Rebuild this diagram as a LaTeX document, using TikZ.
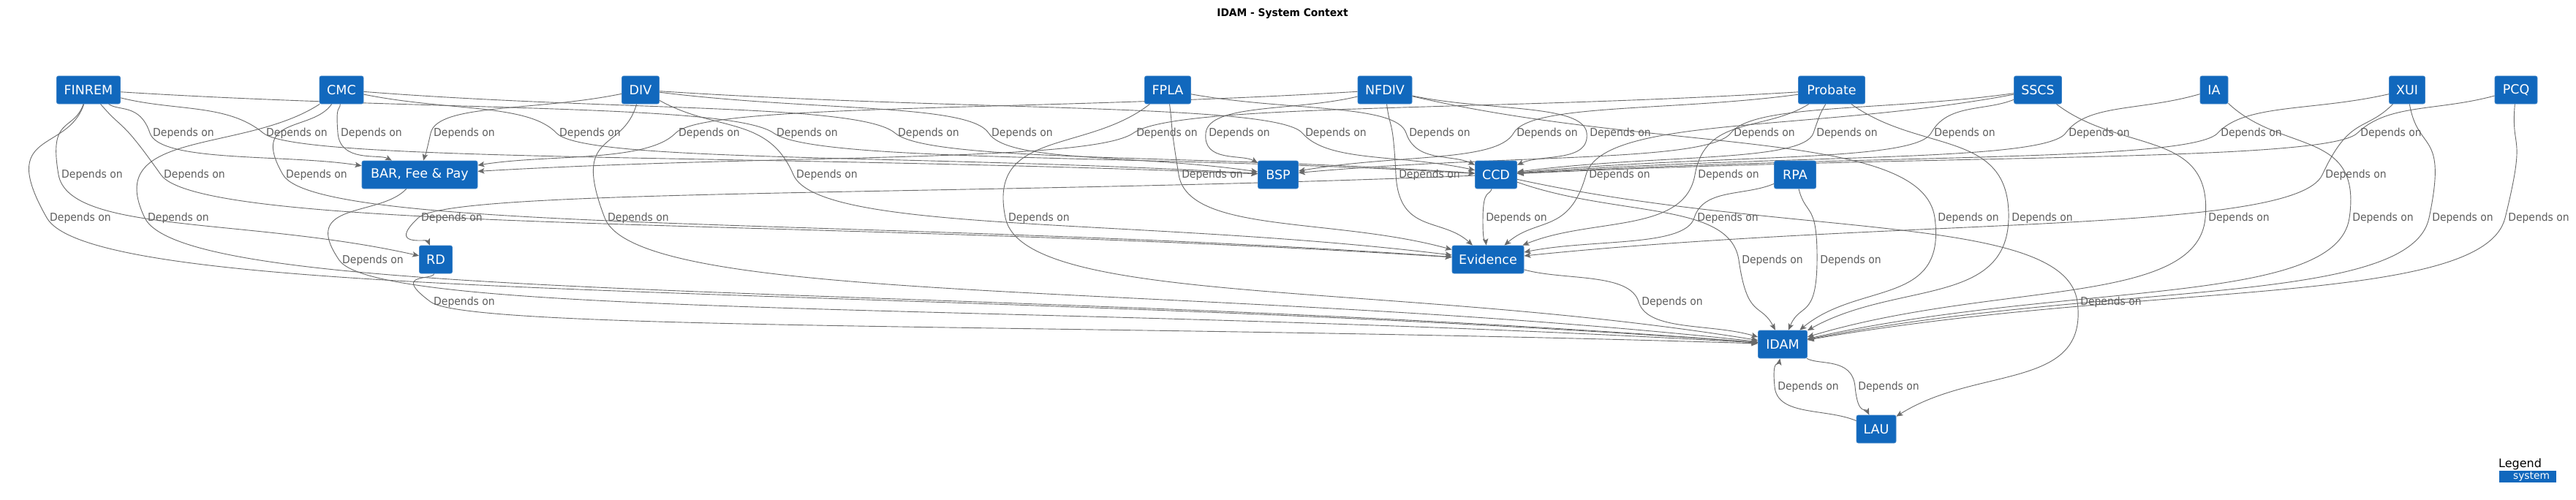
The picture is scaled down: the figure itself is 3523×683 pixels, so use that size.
\documentclass[tikz,border=0pt]{standalone}
\usepackage{fontspec}
\setmainfont{DejaVu Sans}
\newfontfamily\lblfont{DejaVu Sans}[FakeStretch=0.93]
\newfontfamily\ttlfont{DejaVu Sans Bold}[FakeStretch=0.95]
\usetikzlibrary{arrows.meta,calc}
\definecolor{c4blue}{HTML}{1168BD}
\definecolor{c4edge}{HTML}{3F83C6}
\definecolor{c4line}{HTML}{6A6A6A}
\definecolor{c4label}{HTML}{5E5E5E}
\pgfdeclarelayer{background}
\pgfdeclarelayer{edges}
\pgfsetlayers{background,edges,main}
\tikzset{
  sys/.style={rectangle, rounded corners=2.5pt, fill=c4blue, draw=c4edge, line width=0.8pt,
    text=white, font=\fontsize{17.5}{21}\selectfont, minimum height=38pt, inner sep=0pt},
  lbl/.style={inner sep=0pt, text=c4label, font=\lblfont\fontsize{15}{18}\selectfont},
  depline/.style={draw=c4line, line width=0.9pt, -{Stealth[length=9pt,width=7.5pt,inset=2pt]}},
  legbox/.style={rectangle, fill=c4blue, text=white, inner sep=0pt, minimum width=78pt,
    minimum height=16pt, font=\fontsize{13.8}{16}\selectfont},
}
\newcommand{\depedge}[3]{%
  \draw[depline] let \p1=(#1.center), \p2=([xshift=-4pt]#2.west), \p3=(#3.center) in
    (#1) .. controls ({0.5*\x1+0.5*\x2},{0.5*\y1+0.5*\y2})
               and ({\x2-0.03*(\x3-\x1)},{\y2-0.35*(\y3-\y1)}) .. (\p2)
         .. controls ({\x2+0.03*(\x3-\x1)},{\y2+0.35*(\y3-\y1)})
               and ({0.5*\x3+0.5*\x2},{0.5*\y3+0.5*\y2}) .. (#3);}
\begin{document}
\begin{tikzpicture}[x=1pt,y=-1pt]
\begin{pgfonlayer}{background}
  \fill[white] (0,0) rectangle (3523,683);
\end{pgfonlayer}
\useasboundingbox (0,0) rectangle (3523,683);

% title
\node[font=\ttlfont\fontsize{14.5}{18}\selectfont, text=black, inner sep=0pt] (title) at (1754,18.5) {IDAM - System Context};

% systems
\node[sys, minimum width=87pt] (finrem) at (121,123) {FINREM};
\node[sys, minimum width=60pt] (cmc) at (467,123) {CMC};
\node[sys, minimum width=51pt] (div) at (876,123) {DIV};
\node[sys, minimum width=63pt] (fpla) at (1597,123) {FPLA};
\node[sys, minimum width=74pt] (nfdiv) at (1894,123) {NFDIV};
\node[sys, minimum width=91pt] (probate) at (2505,123) {Probate};
\node[sys, minimum width=65pt] (sscs) at (2787,123) {SSCS};
\node[sys, minimum width=38pt] (ia) at (3028,123) {IA};
\node[sys, minimum width=49pt] (xui) at (3292,123) {XUI};
\node[sys, minimum width=58pt] (pcq) at (3441,123) {PCQ};
\node[sys, minimum width=158pt] (bar) at (574,239) {BAR, Fee \& Pay};
\node[sys, minimum width=55pt] (bsp) at (1748,239) {BSP};
\node[sys, minimum width=57pt] (ccd) at (2046,239) {CCD};
\node[sys, minimum width=57pt] (rpa) at (2455,239) {RPA};
\node[sys, minimum width=45pt] (rd) at (596,355) {RD};
\node[sys, minimum width=98pt] (evidence) at (2035,355) {Evidence};
\node[sys, minimum width=67pt] (idam) at (2438,471) {IDAM};
\node[sys, minimum width=54pt] (lau) at (2566,587) {LAU};

% labels row A
\node[lbl] (La1) at (251,182) {Depends on};
\node[lbl] (La2) at (406,182) {Depends on};
\node[lbl] (La3) at (508,182) {Depends on};
\node[lbl] (La4) at (635,182) {Depends on};
\node[lbl] (La5) at (807,182) {Depends on};
\node[lbl] (La6) at (970,182) {Depends on};
\node[lbl] (La7) at (1104,182) {Depends on};
\node[lbl] (La8) at (1270,182) {Depends on};
\node[lbl] (La9) at (1398,182) {Depends on};
\node[lbl] (La10) at (1596,182) {Depends on};
\node[lbl] (La11) at (1695,182) {Depends on};
\node[lbl] (La12) at (1827,182) {Depends on};
\node[lbl] (La13) at (1969,182) {Depends on};
\node[lbl] (La14) at (2116,182) {Depends on};
\node[lbl] (La15) at (2216,182) {Depends on};
\node[lbl] (La16) at (2413,182) {Depends on};
\node[lbl] (La17) at (2526,182) {Depends on};
\node[lbl] (La18) at (2687,182) {Depends on};
\node[lbl] (La19) at (2871,182) {Depends on};
\node[lbl] (La20) at (3079,182) {Depends on};
\node[lbl] (La21) at (3270,182) {Depends on};
% labels row B
\node[lbl] (Lb1) at (126,239) {Depends on};
\node[lbl] (Lb2) at (266,239) {Depends on};
\node[lbl] (Lb3) at (433,239) {Depends on};
\node[lbl] (Lb4) at (1131,239) {Depends on};
\node[lbl] (Lb5) at (1658,239) {Depends on};
\node[lbl] (Lb6) at (1955,239) {Depends on};
\node[lbl] (Lb7) at (2215,239) {Depends on};
\node[lbl] (Lb8) at (2364,239) {Depends on};
\node[lbl] (Lb9) at (3222,239) {Depends on};
% labels row C
\node[lbl] (Lc1) at (110,298) {Depends on};
\node[lbl] (Lc2) at (244,298) {Depends on};
\node[lbl] (Lc3) at (618,298) {Depends on};
\node[lbl] (Lc4) at (873,298) {Depends on};
\node[lbl] (Lc5) at (1421,298) {Depends on};
\node[lbl] (Lc6) at (2074,298) {Depends on};
\node[lbl] (Lc7) at (2363,298) {Depends on};
\node[lbl] (Lc8) at (2692,298) {Depends on};
\node[lbl] (Lc9) at (2793,298) {Depends on};
\node[lbl] (Lc10) at (3062,298) {Depends on};
\node[lbl] (Lc11) at (3259,298) {Depends on};
\node[lbl] (Lc12) at (3368,298) {Depends on};
\node[lbl] (Lc13) at (3472,298) {Depends on};
% labels row D
\node[lbl] (Ld1) at (510,356) {Depends on};
\node[lbl] (Ld2) at (2424,356) {Depends on};
\node[lbl] (Ld3) at (2531,356) {Depends on};
% labels row E
\node[lbl] (Le1) at (635,413) {Depends on};
\node[lbl] (Le2) at (2287,413) {Depends on};
\node[lbl] (Le3) at (2887,413) {Depends on};
% labels row F
\node[lbl] (Lf1) at (2473,529) {Depends on};
\node[lbl] (Lf2) at (2583,529) {Depends on};

% legend
\node[anchor=west, inner sep=0pt, text=black, font=\fontsize{16}{19}\selectfont] (legend) at (3417,635) {Legend};
\node[legbox] (legsys) at (3457,652) {\hspace*{10pt}system};

\begin{pgfonlayer}{edges}
\depedge{finrem}{La1}{bar}
\depedge{finrem}{La2}{bsp}
\depedge{cmc}{La3}{bar}
\depedge{div}{La4}{bar}
\depedge{cmc}{La5}{bsp}
\depedge{nfdiv}{La6}{bar}
\depedge{finrem}{La7}{ccd}
\depedge{cmc}{La8}{ccd}
\depedge{div}{La9}{bsp}
\depedge{probate}{La10}{bar}
\depedge{nfdiv}{La11}{bsp}
\depedge{div}{La12}{ccd}
\depedge{fpla}{La13}{ccd}
\depedge{probate}{La14}{bsp}
\depedge{nfdiv}{La15}{ccd}
\depedge{sscs}{La16}{bsp}
\depedge{probate}{La17}{ccd}
\depedge{sscs}{La18}{ccd}
\depedge{ia}{La19}{ccd}
\depedge{xui}{La20}{ccd}
\depedge{pcq}{La21}{ccd}
\depedge{finrem}{Lb1}{rd}
\depedge{finrem}{Lb2}{evidence}
\depedge{cmc}{Lb3}{evidence}
\depedge{div}{Lb4}{evidence}
\depedge{fpla}{Lb5}{evidence}
\depedge{nfdiv}{Lb6}{evidence}
\depedge{sscs}{Lb7}{evidence}
\depedge{probate}{Lb8}{evidence}
\depedge{xui}{Lb9}{evidence}
\depedge{finrem}{Lc1}{idam}
\depedge{cmc}{Lc2}{idam}
\depedge{ccd}{Lc3}{rd}
\depedge{div}{Lc4}{idam}
\depedge{fpla}{Lc5}{idam}
\depedge{ccd}{Lc6}{evidence}
\depedge{rpa}{Lc7}{evidence}
\depedge{nfdiv}{Lc8}{idam}
\depedge{probate}{Lc9}{idam}
\depedge{sscs}{Lc10}{idam}
\depedge{ia}{Lc11}{idam}
\depedge{xui}{Lc12}{idam}
\depedge{pcq}{Lc13}{idam}
\depedge{bar}{Ld1}{idam}
\depedge{ccd}{Ld2}{idam}
\depedge{rpa}{Ld3}{idam}
\depedge{rd}{Le1}{idam}
\depedge{evidence}{Le2}{idam}
\depedge{ccd}{Le3}{lau}
\depedge{lau}{Lf1}{idam}
\depedge{idam}{Lf2}{lau}
\end{pgfonlayer}
\end{tikzpicture}
\end{document}
